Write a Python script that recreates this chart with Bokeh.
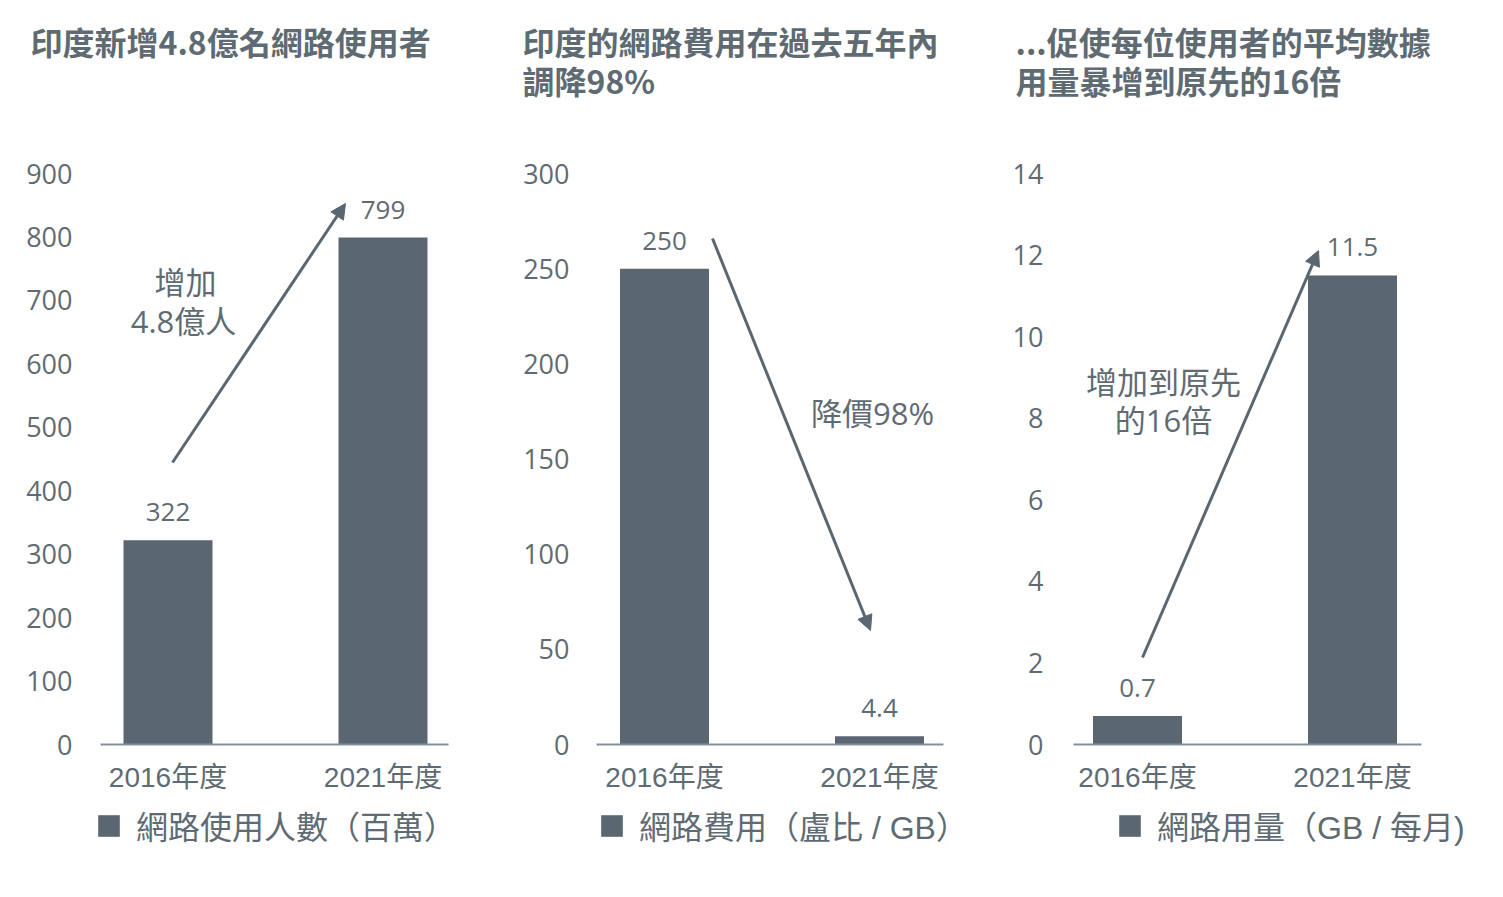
from bokeh.plotting import figure
from bokeh.models import (LinearAxis, FixedTicker, Range1d, Arrow, NormalHead, Label,
                          Legend, LegendItem, ColumnDataSource)
from bokeh.layouts import row, column
from bokeh.embed import file_html
from bokeh.resources import INLINE
from bokeh.core.properties import value

# ---------------- data ----------------
years = ["2016年度", "2021年度"]
users_millions = [322, 799]
cost_rupee_per_gb = [250, 4.4]
usage_gb_per_month = [0.7, 11.5]

titles = [
    ["印度新增4.8億名網路使用者"],
    ["印度的網路費用在過去五年內", "調降98%"],
    ["...促使每位使用者的平均數據", "用量暴增到原先的16倍"],
]
legend_labels = ["網路使用人數（百萬）", "網路費用（盧比 / GB）", "網路用量（GB / 每月)"]
y_ticks = [list(range(0, 901, 100)), list(range(0, 301, 50)), list(range(0, 15, 2))]
value_labels = [["322", "799"], ["250", "4.4"], ["0.7", "11.5"]]
notes = [["增加", "4.8億人"], ["降價98%"], ["增加到原先", "的16倍"]]

# ---------------- styling ----------------
BAR = "#5a6670"
TXT = "#5f6b73"
AXIS = "#86909a"
NUM_FONT = "Open Sans, Noto Sans CJK TC"
SANS_FONT = "Liberation Sans, Noto Sans CJK TC"
TITLE_FONT = "Noto Sans CJK TC"

TITLE_H = 130
CHART_BOTTOM = 800
TOTAL_H = 888
CHART_H = CHART_BOTTOM - TITLE_H
LEG_H = TOTAL_H - CHART_BOTTOM
X_AXIS_Y = 744        # screen y of the zero line
TOP_TICK_Y = 173      # screen y of the top tick

panels = [
    dict(fig_left=0, width=504, frame_left=100, frame_right=448, c0=167.5, standoff=22,
         title_x=30, notes_xy=[(185, 281), (183, 320)],
         arrow=((172, 462), (345, 203)), legend_x=95),
    dict(fig_left=504, width=496, frame_left=596, frame_right=943, c0=664, standoff=21,
         title_x=522, notes_xy=[(872, 412)],
         arrow=((712, 238), (870, 630)), legend_x=598),
    dict(fig_left=1000, width=495, frame_left=1073, frame_right=1421, c0=1137, standoff=24,
         title_x=1015, notes_xy=[(1163, 381), (1163, 419)],
         arrow=((1142, 657), (1318, 250)), legend_x=1116),
]
series = [users_millions, cost_rupee_per_gb, usage_gb_per_month]
UNIT = 215.0  # px between category centres
TOTAL_W = sum(c["width"] for c in panels)


def strip(h, y_range):
    f = figure(width=TOTAL_W, height=h, output_backend="svg", toolbar_location=None,
               x_range=Range1d(0, TOTAL_W), y_range=y_range,
               x_axis_location=None, y_axis_location=None,
               min_border_left=0, min_border_right=0, min_border_top=0, min_border_bottom=0)
    f.outline_line_color = None
    f.grid.visible = False
    f.title.visible = False
    return f


# ---------------- title strip ----------------
tf = strip(TITLE_H, Range1d(TITLE_H, 0))
t_x, t_y, t_txt = [], [], []
for i, cfg in enumerate(panels):
    for k, t in enumerate(titles[i]):
        t_x.append(cfg["title_x"])
        t_y.append(40 + 39 * k)
        t_txt.append(t)
tf.text(x=t_x, y=t_y, text=t_txt, text_align="left", text_baseline="middle",
        text_font=value(TITLE_FONT), text_font_style="bold", text_font_size="32px",
        text_color=TXT)

# ---------------- charts ----------------
figs = []
for i, cfg in enumerate(panels):
    vals = series[i]
    ymax_tick = y_ticks[i][-1]
    ppu = (X_AXIS_Y - TOP_TICK_Y) / ymax_tick
    y_end = (X_AXIS_Y - TITLE_H) / ppu

    def px(xp, c0=cfg["c0"]):
        return (xp - c0) / UNIT

    def py(yp, ppu=ppu):
        return (X_AXIS_Y - yp) / ppu

    fl = cfg["frame_left"] - cfg["fig_left"]
    fr = cfg["fig_left"] + cfg["width"] - cfg["frame_right"]
    fb = CHART_BOTTOM - X_AXIS_Y

    p = figure(width=cfg["width"], height=CHART_H, output_backend="svg", toolbar_location=None,
               x_range=Range1d(px(cfg["frame_left"]), px(cfg["frame_right"])),
               y_range=Range1d(0, y_end),
               x_axis_location=None, y_axis_location=None,
               min_border_left=fl, min_border_right=fr, min_border_top=0, min_border_bottom=fb)
    p.outline_line_color = None
    p.grid.visible = False
    p.title.visible = False

    xs = list(range(len(years)))
    src = ColumnDataSource(dict(x=xs, top=vals, lab=value_labels[i]))
    p.vbar(x="x", top="top", width=89 / UNIT, source=src, fill_color=BAR, line_color=None)

    p.text(x="x", y="top", text="lab", source=src, text_align="center", text_baseline="middle",
           y_offset=-28, text_font=value(NUM_FONT), text_font_size="26px", text_color=TXT)

    yax = LinearAxis(ticker=FixedTicker(ticks=y_ticks[i]))
    yax.axis_line_color = None
    yax.major_tick_line_color = None
    yax.minor_tick_line_color = None
    yax.major_label_standoff = cfg["standoff"]
    yax.major_label_text_font = NUM_FONT
    yax.major_label_text_font_size = "27px"
    yax.major_label_text_color = TXT
    p.add_layout(yax, "left")

    xax = LinearAxis(ticker=FixedTicker(ticks=xs),
                     major_label_overrides={k: years[k] for k in xs})
    xax.axis_line_color = AXIS
    xax.axis_line_width = 2
    xax.major_tick_line_color = None
    xax.minor_tick_line_color = None
    xax.major_label_standoff = 11
    xax.major_label_text_font = SANS_FONT
    xax.major_label_text_font_size = "28px"
    xax.major_label_text_color = TXT
    p.add_layout(xax, "below")

    for t, (nx, ny) in zip(notes[i], cfg["notes_xy"]):
        p.add_layout(Label(x=px(nx), y=py(ny), text=t, text_align="center",
                           text_baseline="middle", text_font=NUM_FONT,
                           text_font_size="31px", text_color=TXT))

    (ax0, ay0), (ax1, ay1) = cfg["arrow"]
    p.add_layout(Arrow(x_start=px(ax0), y_start=py(ay0), x_end=px(ax1), y_end=py(ay1),
                       line_color=BAR, line_width=3,
                       end=NormalHead(size=15, fill_color=BAR, line_color=BAR)))
    figs.append(p)

# ---------------- legend strip ----------------
lf = strip(LEG_H, Range1d(0, LEG_H))
LEG_ITEM_H = 36
for i, cfg in enumerate(panels):
    # series swatch renderer for the legend (one zero-height bar, placed outside the strip's view)
    r = lf.vbar(x=[-1000], top=[0], width=1, fill_color=BAR, line_color=None)
    top_from_strip = 830 - CHART_BOTTOM - LEG_ITEM_H / 2
    leg = Legend(items=[LegendItem(label=legend_labels[i], renderers=[r])],
                 location=(cfg["legend_x"], LEG_H - top_from_strip - LEG_ITEM_H),
                 glyph_width=27, glyph_height=27, label_standoff=14, padding=0, margin=0,
                 border_line_color=None, background_fill_alpha=0,
                 label_text_font=SANS_FONT, label_text_font_size="32px",
                 label_text_color=TXT, label_height=LEG_ITEM_H)
    lf.add_layout(leg, "center")

layout = column(tf, row(*figs), lf)
open("out.html", "w").write(file_html(layout, INLINE))
